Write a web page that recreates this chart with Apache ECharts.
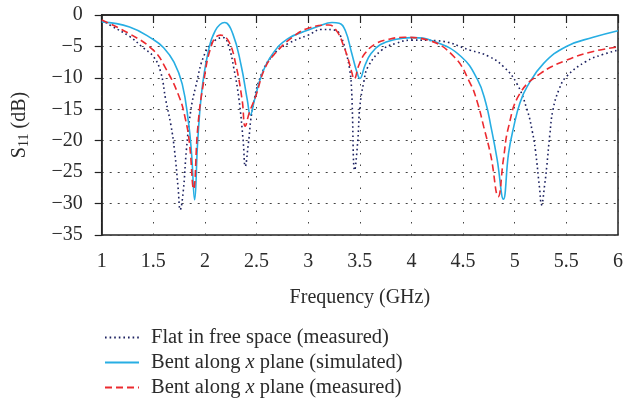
<!DOCTYPE html>
<html>
<head>
<meta charset="utf-8">
<script src="https://cdn.jsdelivr.net/npm/echarts@6/dist/echarts.min.js"></script>
<style>
  html, body { margin: 0; padding: 0; background: #fff; }
  #chart { width: 626px; height: 406px; }
</style>
</head>
<body>
<div id="chart"></div>
<script>
// data (frequency in GHz, S11 in dB)
const flatFreq = [1.0, 1.1, 1.27, 1.4, 1.5, 1.57, 1.62, 1.67, 1.705, 1.74, 1.76, 1.79, 1.82, 1.86, 1.91, 2.0, 2.1, 2.18, 2.23, 2.28, 2.33, 2.37, 2.39, 2.42, 2.46, 2.55, 2.68, 2.81, 3.0, 3.13, 3.26, 3.32, 3.36, 3.40, 3.42, 3.45, 3.48, 3.5, 3.54, 3.58, 3.71, 3.85, 4.0, 4.25, 4.57, 4.75, 4.89, 5.02, 5.12, 5.17, 5.2, 5.24, 5.26, 5.29, 5.31, 5.34, 5.37, 5.43, 5.5, 5.69, 5.85, 6.0];
const flatVals = [-0.8, -1.8, -3.4, -5.2, -6.6, -9.0, -13.5, -17.5, -21.5, -27.5, -31.0, -28.0, -21.5, -15.5, -11.4, -6.1, -4.0, -3.6, -5.0, -8.5, -13.5, -20.0, -24.1, -20.5, -15.0, -9.3, -6.0, -4.5, -3.2, -2.3, -2.4, -3.6, -5.6, -8.5, -11.9, -24.7, -20.0, -14.6, -10.5, -8.2, -5.6, -4.5, -4.0, -4.1, -5.6, -6.6, -8.2, -10.9, -15.1, -18.5, -21.5, -27.5, -30.2, -27.0, -24.1, -19.0, -15.1, -11.8, -9.8, -7.4, -6.3, -5.6];

const simFreq = [1.0, 1.27, 1.5, 1.6, 1.7, 1.78, 1.84, 1.87, 1.9, 1.93, 1.97, 2.03, 2.1, 2.19, 2.27, 2.35, 2.41, 2.44, 2.48, 2.55, 2.65, 2.8, 3.0, 3.1, 3.23, 3.3, 3.36, 3.42, 3.47, 3.5, 3.55, 3.61, 3.7, 3.84, 4.0, 4.22, 4.48, 4.64, 4.72, 4.77, 4.83, 4.89, 4.94, 4.99, 5.05, 5.12, 5.28, 5.5, 5.76, 6.0];
const simVals = [-1.1, -1.9, -3.9, -5.2, -7.5, -11.0, -17.0, -22.0, -29.4, -20.0, -12.0, -6.0, -2.5, -1.2, -3.0, -8.0, -13.5, -15.9, -13.5, -9.5, -6.3, -3.8, -2.4, -1.8, -1.2, -1.3, -2.5, -6.0, -9.0, -10.1, -8.0, -6.1, -4.7, -3.9, -3.6, -4.2, -6.6, -10.3, -14.0, -17.8, -23.0, -29.3, -22.0, -17.8, -14.0, -11.4, -7.7, -5.0, -3.55, -2.5];

const bentFreq = [1.0, 1.27, 1.5, 1.62, 1.75, 1.81, 1.85, 1.89, 1.93, 1.98, 2.07, 2.15, 2.23, 2.3, 2.36, 2.39, 2.43, 2.49, 2.58, 2.68, 2.85, 3.0, 3.2, 3.28, 3.34, 3.39, 3.42, 3.445, 3.49, 3.55, 3.65, 3.77, 3.93, 4.16, 4.41, 4.57, 4.64, 4.7, 4.77, 4.84, 4.89, 4.94, 5.05, 5.25, 5.5, 5.76, 6.0];
const bentVals = [-0.8, -3.0, -5.6, -8.5, -13.0, -16.5, -20.4, -27.7, -18.0, -11.4, -4.5, -3.2, -4.2, -8.0, -13.5, -17.7, -15.5, -13.0, -8.5, -6.1, -3.5, -2.1, -1.6, -2.65, -4.8, -7.2, -9.0, -10.2, -8.0, -6.1, -4.6, -3.9, -3.55, -4.0, -6.6, -10.9, -14.0, -17.8, -22.5, -28.9, -23.0, -17.8, -12.5, -9.3, -7.2, -5.8, -5.1];

const seriesNames = ['Flat in free space (measured)', 'Bent along x plane (simulated)', 'Bent along x plane (measured)'];

const font = 'Liberation Serif';
const textColor = '#2b2b2b';

function pairs(fs, vs) {
  return fs.map((f, i) => [f, vs[i]]);
}

const chart = echarts.init(document.getElementById('chart'), null, { renderer: 'canvas' });

const option = {
  animation: false,
  grid: {
    left: 101.7,
    right: 5,
    top: 15,
    bottom: 171,
    show: true,
    borderColor: '#222',
    borderWidth: 1.5,
    backgroundColor: 'transparent'
  },
  xAxis: {
    type: 'value',
    min: 1,
    max: 6,
    interval: 0.5,
    name: 'Frequency (GHz)',
    nameLocation: 'middle',
    nameGap: 53,
    nameTextStyle: { fontFamily: font, fontSize: 20, color: textColor },
    axisLine: { lineStyle: { color: '#222', width: 1.5 } },
    axisTick: { inside: false, length: 8, lineStyle: { color: '#222', width: 1.2 } },
    axisLabel: {
      fontFamily: font, fontSize: 20, color: textColor, margin: 17,
      formatter: v => String(v)
    },
    splitLine: { show: true, lineStyle: { color: '#444', width: 1, type: [1.5, 10] } }
  },
  yAxis: {
    type: 'value',
    min: -35,
    max: 0,
    interval: 5,
    name: '{s|S}{sub|11}{s| (dB)}',
    nameLocation: 'middle',
    nameRotate: 90,
    nameGap: 70,
    nameTextStyle: {
      color: textColor,
      rich: {
        s: { fontFamily: font, fontSize: 20, color: textColor },
        sub: { fontFamily: font, fontSize: 14, color: textColor, verticalAlign: 'bottom', padding: [9, 0, 0, 0] }
      }
    },
    axisLine: { show: true, lineStyle: { color: '#222', width: 1.5 } },
    axisTick: { show: true, length: 7, lineStyle: { color: '#222', width: 1.2 } },
    axisLabel: {
      fontFamily: font, fontSize: 20, color: textColor, margin: 19,
      formatter: v => (v < 0 ? '\u2212' + Math.abs(v) : String(v))
    },
    splitLine: { show: true, lineStyle: { color: '#444', width: 1, type: [2, 6] } }
  },
  legend: {
    orient: 'vertical',
    left: 99,
    top: 322,
    itemWidth: 34,
    itemHeight: 14,
    itemGap: 4,
    itemStyle: { opacity: 0 },
    formatter: name => name.replace(' x ', ' {i|x} '),
    textStyle: {
      fontFamily: font, fontSize: 20.5, color: textColor, lineHeight: 20, padding: [0, 0, 0, 7],
      rich: {
        i: { fontFamily: font, fontSize: 20.5, fontStyle: 'italic', color: textColor }
      }
    },
    data: seriesNames
  },
  series: [
    {
      name: seriesNames[0],
      type: 'line',
      data: pairs(flatFreq, flatVals),
      smooth: 0.45,
      symbol: 'none',
      z: 1,
      lineStyle: { color: '#1c2160', width: 1.6, type: [1.6, 3] },
      itemStyle: { color: '#1c2160' }
    },
    {
      name: seriesNames[1],
      type: 'line',
      data: pairs(simFreq, simVals),
      smooth: 0.45,
      symbol: 'none',
      z: 2,
      lineStyle: { color: '#27aee3', width: 1.6 },
      itemStyle: { color: '#27aee3' }
    },
    {
      name: seriesNames[2],
      type: 'line',
      data: pairs(bentFreq, bentVals),
      smooth: 0.45,
      symbol: 'none',
      z: 3,
      lineStyle: { color: '#ec2a2f', width: 1.6, type: [7, 4] },
      itemStyle: { color: '#ec2a2f' }
    }
  ]
};

chart.setOption(option);
</script>
</body>
</html>
